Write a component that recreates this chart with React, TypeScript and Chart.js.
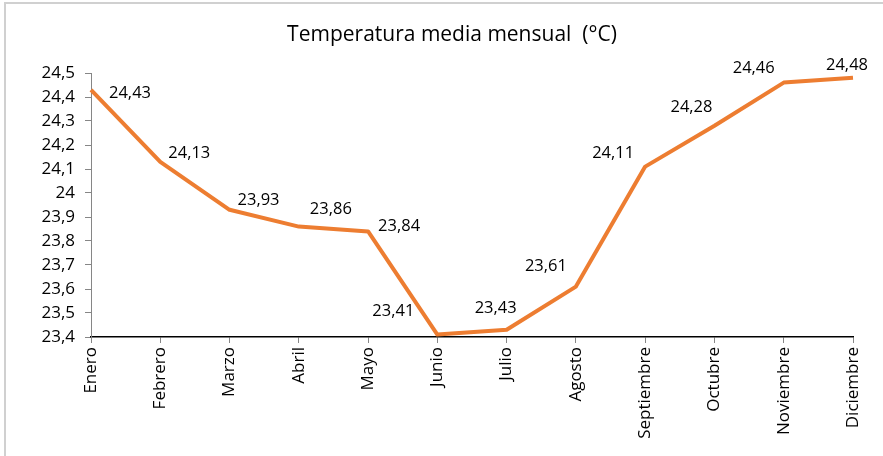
import React, { useEffect, useRef } from "react";
import { Chart, registerables } from "chart.js";

Chart.register(...registerables);

const TITLE = "Temperatura media mensual  (°C)";
const MONTHS = [
  "Enero", "Febrero", "Marzo", "Abril", "Mayo", "Junio",
  "Julio", "Agosto", "Septiembre", "Octubre", "Noviembre", "Diciembre",
];
const TEMPS = [24.43, 24.13, 23.93, 23.86, 23.84, 23.41, 23.43, 23.61, 24.11, 24.28, 24.46, 24.48];
const Y_MIN = 23.4;
const Y_MAX = 24.5;
const Y_STEP = 0.1;

// label placement (style): offset of label centre from its point, in px
const LABEL_DX = [39, 29, 29, 32, 31, -44, -11, -30, -32, -23, -30, -6];
const LABEL_DY = [3, -9, -10, -17, -5, -23, -22, -20, -13, -19, -14, -13];

const FONT = "'Open Sans', sans-serif";
const fmt = (v: number) => String(Number(v.toFixed(2))).replace(".", ",");

const decorPlugin = {
  id: "decor",
  beforeDraw(chart: any) {
    const ctx = chart.ctx;
    ctx.save();
    ctx.fillStyle = "#ffffff";
    ctx.fillRect(0, 0, chart.width, chart.height);
    ctx.strokeStyle = "#d0d0d0";
    ctx.lineWidth = 2;
    ctx.beginPath();
    ctx.moveTo(5, chart.height);
    ctx.lineTo(5, 3);
    ctx.lineTo(chart.width, 3);
    ctx.stroke();
    ctx.fillStyle = "#000000";
    ctx.font = `21px ${FONT}`;
    ctx.textAlign = "center";
    ctx.textBaseline = "middle";
    ctx.fillText(TITLE, 452, 35);
    ctx.restore();
  },
  afterDatasetsDraw(chart: any) {
    const ctx = chart.ctx;
    const meta = chart.getDatasetMeta(0);
    ctx.save();
    ctx.fillStyle = "#000000";
    ctx.font = `16.5px ${FONT}`;
    ctx.textAlign = "center";
    ctx.textBaseline = "middle";
    meta.data.forEach((pt: any, i: number) => {
      ctx.fillText(fmt(TEMPS[i]), pt.x + LABEL_DX[i], pt.y + LABEL_DY[i]);
    });
    ctx.restore();
  },
};

export default function App() {
  const ref = useRef<HTMLCanvasElement | null>(null);
  useEffect(() => {
    if (!ref.current) return;
    const chart = new Chart(ref.current, {
      type: "line",
      data: {
        labels: MONTHS,
        datasets: [
          {
            data: TEMPS,
            borderColor: "#ED7D31",
            borderWidth: 4,
            pointRadius: 0,
            tension: 0,
            borderJoinStyle: "round",
          },
        ],
      },
      options: {
        animation: false,
        responsive: false,
        devicePixelRatio: 1,
        layout: { padding: { top: 73, right: 30, left: 0, bottom: 0 } },
        plugins: {
          legend: { display: false },
          title: { display: false },
          tooltip: { enabled: false },
        },
        scales: {
          x: {
            offset: false,
            grid: {
              drawOnChartArea: false,
              drawTicks: true,
              tickLength: 6,
              color: "#868686",
            },
            border: { color: "#000000", width: 1.5 },
            ticks: {
              color: "#000000",
              font: { family: FONT, size: 17 },
              maxRotation: 90,
              minRotation: 90,
              padding: 4,
              autoSkip: false,
            },
            afterFit: (s: any) => {
              s.height = 119;
            },
          },
          y: {
            min: Y_MIN,
            max: Y_MAX,
            grid: {
              drawOnChartArea: false,
              drawTicks: true,
              tickLength: 6,
              color: "#868686",
            },
            border: { color: "#868686", width: 1 },
            ticks: {
              stepSize: Y_STEP,
              color: "#000000",
              font: { family: FONT, size: 17 },
              padding: 10,
              callback: (v: any) => fmt(Number(v)),
            },
            afterFit: (s: any) => {
              s.width = 91;
            },
          },
        },
      },
      plugins: [decorPlugin],
    } as any);
    return () => chart.destroy();
  }, []);
  return (
    <div style={{ position: "fixed", left: 0, top: 0, width: 883, height: 456, background: "#fff" }}>
      <canvas ref={ref} width={883} height={456} style={{ display: "block" }} />
    </div>
  );
}
